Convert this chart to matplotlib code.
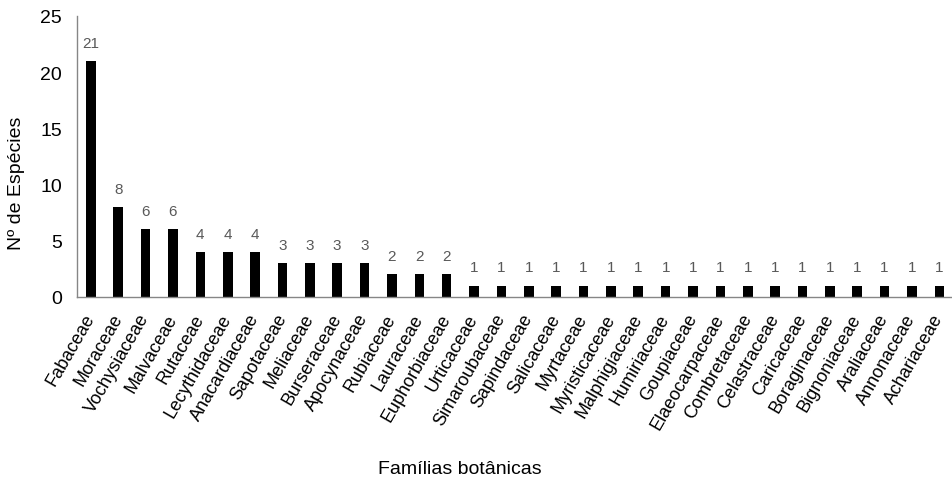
import numpy as np
import matplotlib.pyplot as plt

plt.rcParams['font.family'] = ['Liberation Sans', 'DejaVu Sans']

familias = ['Fabaceae', 'Moraceae', 'Vochysiaceae', 'Malvaceae', 'Rutaceae',
            'Lecythidaceae', 'Anacardiaceae', 'Sapotaceae', 'Meliaceae',
            'Burseraceae', 'Apocynaceae', 'Rubiaceae', 'Lauraceae',
            'Euphorbiaceae', 'Urticaceae', 'Simaroubaceae', 'Sapindaceae',
            'Salicaceae', 'Myrtaceae', 'Myristicaceae', 'Malphigiaceae',
            'Humiriaceae', 'Goupiaceae', 'Elaeocarpaceae', 'Combretaceae',
            'Celastraceae', 'Caricaceae', 'Boraginaceae', 'Bignoniaceae',
            'Araliaceae', 'Annonaceae', 'Achariaceae']
especies = [21, 8, 6, 6, 4, 4, 4, 3, 3, 3, 3, 2, 2, 2,
            1, 1, 1, 1, 1, 1, 1, 1, 1, 1, 1, 1, 1, 1, 1, 1, 1, 1]

fig = plt.figure(figsize=(9.53, 4.85), dpi=100)
ax = fig.add_axes([0.081, 0.386, 0.919, 0.579])

x = np.arange(len(familias))
ax.bar(x, especies, width=0.35, color='black')
for xi, v in zip(x, especies):
    ax.annotate(str(v), (xi, v), xytext=(0, 8), textcoords='offset points',
                ha='center', va='bottom', fontsize=11, color='#595959')

ax.set_xlim(-0.5, len(familias) - 0.5)
ax.set_ylim(0, 25)
ax.set_yticks([0, 5, 10, 15, 20, 25])
ax.set_xticks(x)
ax.set_xticklabels(familias, rotation=60, ha='right', va='center',
                   rotation_mode='anchor', fontsize=13)
ax.tick_params(axis='both', length=0)
ax.tick_params(axis='x', pad=13)
ax.tick_params(axis='y', labelsize=14, pad=11)

for s in ['top', 'right']:
    ax.spines[s].set_visible(False)
for s in ['left', 'bottom']:
    ax.spines[s].set_color('#868686')
    ax.spines[s].set_linewidth(1)

fig.text(0.017, 0.623, 'Nº de Espécies', rotation=90, ha='center',
         va='center', fontsize=14)
fig.text(0.483, 0.031, 'Famílias botânicas', ha='center', va='center',
         fontsize=14)

fig.savefig('out.png', dpi=100)
